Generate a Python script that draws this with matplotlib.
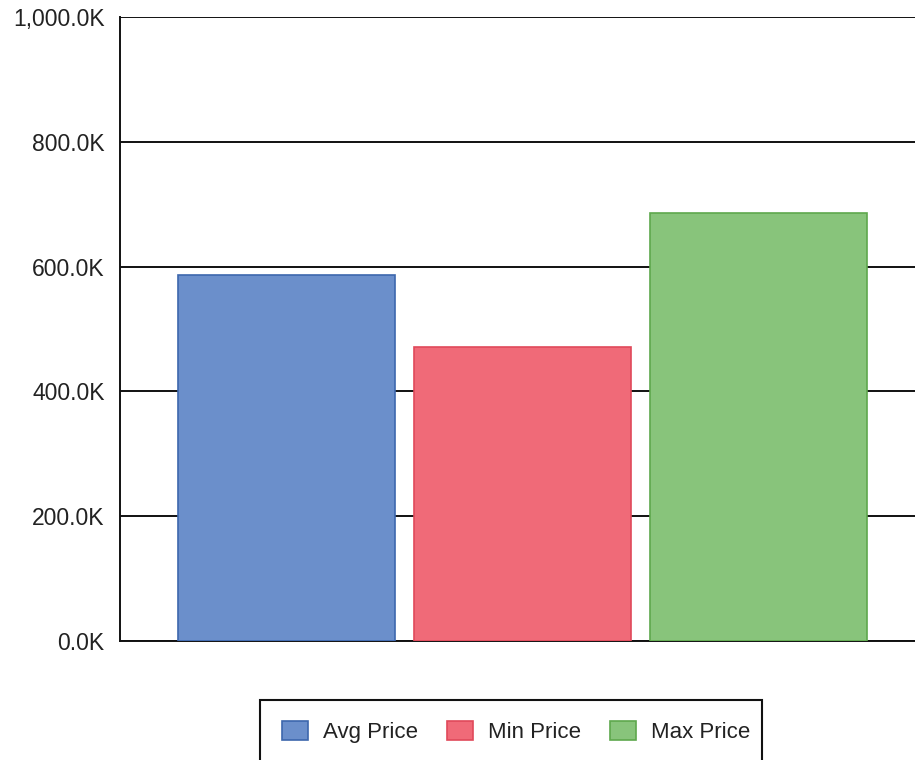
import matplotlib.pyplot as plt
from matplotlib.patches import Rectangle
from matplotlib.ticker import FuncFormatter

plt.rcParams['font.family'] = ['Liberation Sans', 'DejaVu Sans']

labels = ['Avg Price', 'Min Price', 'Max Price']
prices = [586000, 471000, 686000]
colors = ['#6b8fcb', '#f06a78', '#88c47b']
edges = ['#3d67ad', '#e0495a', '#5ea84d']
yticks = [0, 200000, 400000, 600000, 800000, 1000000]

fig = plt.figure(figsize=(9.15, 7.6), dpi=100)
ax = fig.add_axes([120 / 915, 119 / 760, 1 - 120 / 915, 624 / 760])

xs = range(len(labels))
bars = ax.bar(xs, prices, width=0.92, color=colors, edgecolor=edges,
              linewidth=1.2, label=labels, zorder=3)

ax.set_ylim(0, 1000000)
ax.set_xlim(-0.705, 2.663)
ax.set_yticks(yticks)
ax.yaxis.set_major_formatter(FuncFormatter(lambda v, p: f'{v / 1000:,.1f}K'))
ax.set_xticks([])
ax.tick_params(axis='y', length=0, pad=11, labelsize=16.5, labelcolor='#222222')
ax.grid(axis='y', color='#111111', linewidth=1.4, zorder=0)
ax.spines['top'].set_visible(False)
ax.spines['right'].set_visible(False)
ax.spines['left'].set_color('#111111')
ax.spines['bottom'].set_color('#111111')
ax.spines['left'].set_linewidth(1.4)
ax.spines['bottom'].set_linewidth(1.4)

# legend entries without frame, box drawn separately (runs off the bottom)
leg = fig.legend(bars, labels, loc='center left',
                 bbox_to_anchor=(282 / 915, 1 - 732 / 760), borderaxespad=0,
                 ncol=3, fontsize=16, frameon=False, borderpad=0,
                 handlelength=1.15, handleheight=0.95,
                 handletextpad=0.7, columnspacing=1.3)
for t in leg.get_texts():
    t.set_color('#222222')

fig.add_artist(Rectangle((260 / 915, -0.05), 502 / 915, 60 / 760 + 0.05,
                         transform=fig.transFigure, fill=False,
                         edgecolor='#111111', linewidth=1.5))

fig.savefig('out.png', dpi=100)
